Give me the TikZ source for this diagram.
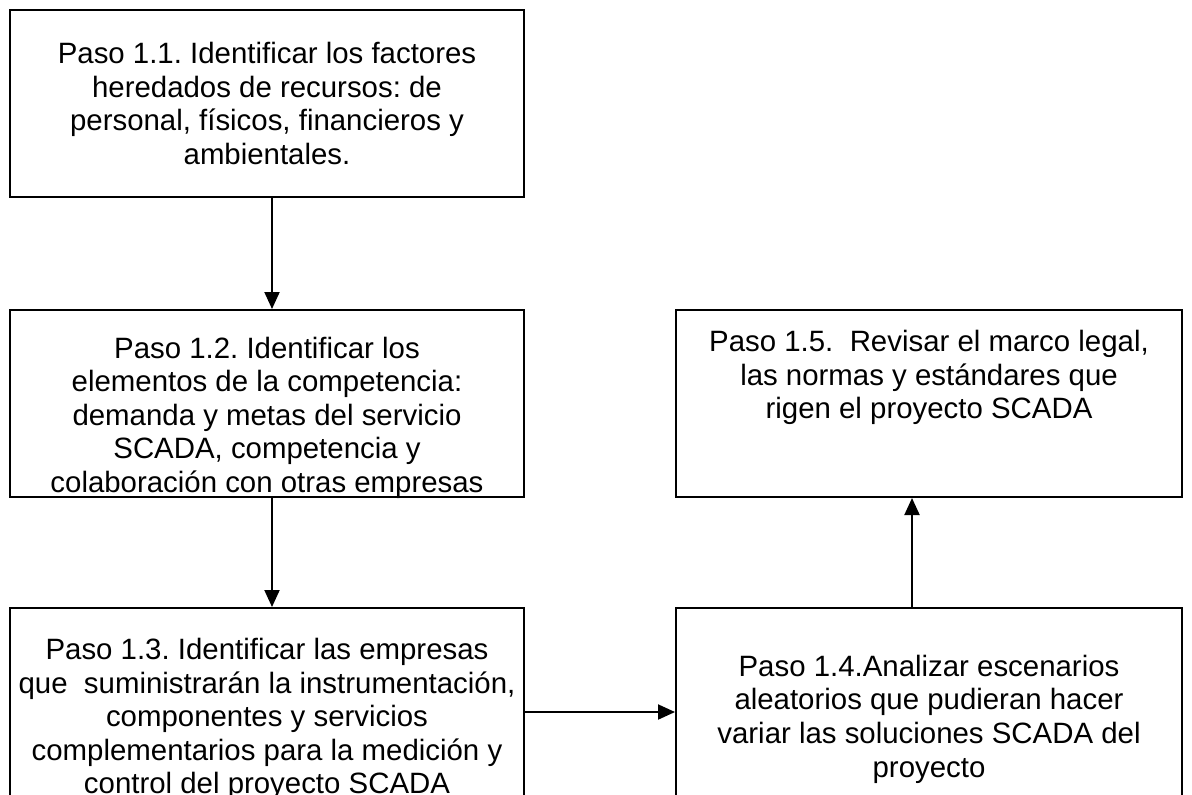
\documentclass[tikz,border=0pt]{standalone}
\usepackage{fontspec}
\setmainfont{Liberation Sans}
\usepackage{tikz}
\usetikzlibrary{arrows.meta, positioning}

\begin{document}
\begin{tikzpicture}[x=0.5pt, y=-0.5pt,
    paso/.style={draw, line width=1pt, align=center, inner sep=0pt,
        font=\fontsize{14.7}{16.8}\selectfont\frenchspacing},
    flecha/.style={line width=1pt, -{Triangle[length=8.5pt, width=7.5pt]}}]
    \useasboundingbox (0,0) rectangle (1192,794);
    \clip (0,0) rectangle (1192,794);

    % Left column
    \node[paso, minimum width=257pt, minimum height=93.5pt] (p11) at (267,103.5)
        {Paso 1.1. Identificar los factores\\ heredados de recursos: de\\ personal, físicos, financieros y\\ ambientales.};
    \node[paso, minimum width=257pt, minimum height=93.5pt] (p12) at (267,403.5)
        {\raisebox{-7.5pt}[\height][\depth]{\begin{tabular}{@{}c@{}}
        Paso 1.2. Identificar los\\ elementos de la competencia:\\ demanda y metas del servicio\\ SCADA, competencia y\\ colaboración con otras empresas
        \end{tabular}}};
    \node[paso, minimum width=257pt, minimum height=111pt] (p13) at (267,719)
        {Paso 1.3. Identificar las empresas\\ que\ \ suministrarán la instrumentación,\\ componentes y servicios\\ complementarios para la medición y\\ control del proyecto SCADA};

    % Right column
    \node[paso, minimum width=253pt, minimum height=111pt] (p14) at (929,719)
        {Paso 1.4.Analizar escenarios\\ aleatorios que pudieran hacer\\ variar las soluciones SCADA del\\ proyecto};
    \node[paso, minimum width=253pt, minimum height=93.5pt] (p15) at (929,403.5)
        {Paso 1.5.\ \ Revisar el marco legal,\\ las normas y estándares que\\ rigen el proyecto SCADA\\[12pt]\mbox{}};

    % Connections
    \draw[flecha] ([xshift=2.5pt]p11.south) -- ([xshift=2.5pt]p12.north);
    \draw[flecha] ([xshift=2.5pt]p12.south) -- ([xshift=2.5pt]p13.north);
    \draw[flecha] ([yshift=3.5pt]p13.east) -- ([yshift=3.5pt]p14.west);
    \draw[flecha] ([xshift=-8.5pt]p14.north) -- ([xshift=-8.5pt]p15.south);
\end{tikzpicture}
\end{document}
